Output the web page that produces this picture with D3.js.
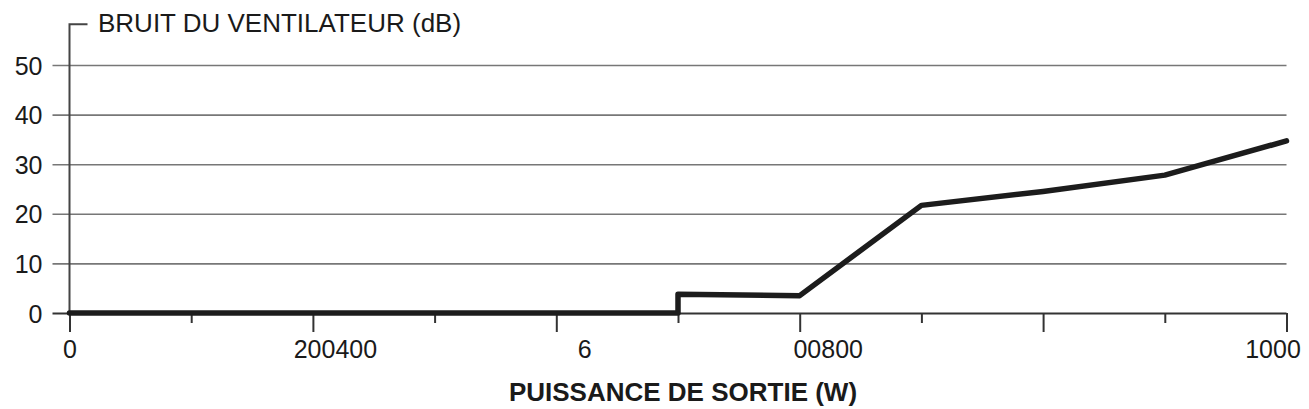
<!DOCTYPE html>
<html>
<head>
<meta charset="utf-8">
<script src="https://cdn.jsdelivr.net/npm/d3@7"></script>
<style>
body{margin:0;background:#fff;}
text{font-family:"Liberation Sans",Arial,sans-serif;fill:#1a1a1a;}
</style>
</head>
<body>
<script>
// fan noise vs output power
const powerW=[0,500,500,600,700,800,900,1000];
const noiseDb=[0,0,3.8,3.5,21.7,24.5,27.8,34.7];
const yTicks=[0,10,20,30,40,50];
const xTicks=[0,100,200,300,400,500,600,700,800,900,1000];
const xTickLabels=["0","","200400","","6","","00800","","","","1000"];
const yTitle="BRUIT DU VENTILATEUR (dB)";
const xTitle="PUISSANCE DE SORTIE (W)";

const w=1309,h=409;
const svg=d3.select("body").append("svg")
  .attr("width",w).attr("height",h)
  .attr("viewBox",[0,0,w,h]);

const x=d3.scaleLinear().domain([0,1000]).range([69.5,1286.5]);
const y=d3.scaleLinear().domain([0,50]).range([313,65]);
const x0=x(0);

// y axis + grid
const gy=svg.append("g").attr("transform",`translate(${x0},0)`)
  .call(d3.axisLeft(y).tickValues(yTicks).tickSize(17).tickSizeOuter(0).tickPadding(10));
gy.select(".domain").remove();
gy.selectAll(".tick line")
  .attr("x1",-17).attr("x2",x(1000)-x0)
  .attr("stroke",d=>d===0?"#333":"#777").attr("stroke-width",d=>d===0?2:1.6);
gy.selectAll(".tick text").style("font-size","25px").attr("fill","#1a1a1a").attr("dy","0.36em");

// y axis line with cap
const yTop=y(58.2);
svg.append("path")
  .attr("d",`M${x0},313V${yTop}H${x0+18}`)
  .attr("fill","none").attr("stroke","#444").attr("stroke-width",2);

svg.append("text").attr("x",98).attr("y",32)
  .style("font-size","26px").text(yTitle);

// x axis
const gx=svg.append("g").attr("transform","translate(0,313)")
  .call(d3.axisBottom(x).tickValues(xTicks).tickSizeOuter(0)
    .tickFormat((d,i)=>xTickLabels[i]).tickSize(19).tickPadding(8));
gx.select(".domain").remove();
gx.selectAll(".tick line")
  .attr("y2",(d,i)=>i%2===0?19:10)
  .attr("stroke","#333").attr("stroke-width",2);
const labelShift={200:22,400:28,600:28,1000:-14};
gx.selectAll(".tick text")
  .style("font-size","25px").attr("fill","#1a1a1a")
  .attr("dx",d=>labelShift[d]||0);

svg.append("text").attr("x",(x(0)+x(1000))/2+5).attr("y",401)
  .attr("text-anchor","middle")
  .style("font-size","26px").style("font-weight","bold").text(xTitle);

// curve
const line=d3.line().x((d,i)=>x(powerW[i])).y(d=>y(d)).curve(d3.curveLinear);
svg.append("path").datum(noiseDb)
  .attr("d",line)
  .attr("fill","none").attr("stroke","#1c1c1c").attr("stroke-width",5.5)
  .attr("stroke-linejoin","round").attr("stroke-linecap","round");
</script>
</body>
</html>
